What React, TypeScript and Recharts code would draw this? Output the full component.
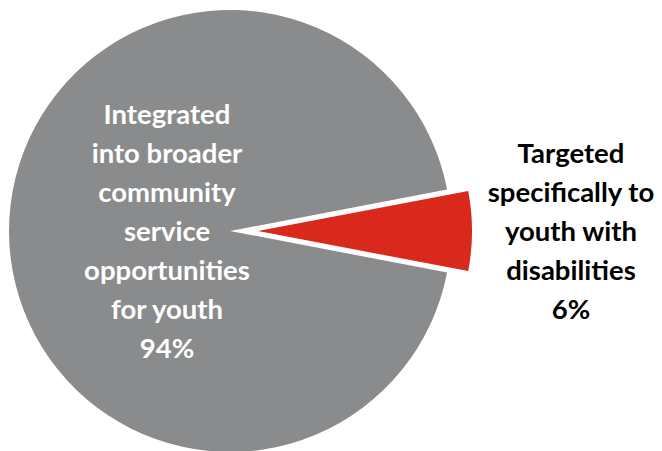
import { PieChart, Pie, Cell } from 'recharts'

const categories = [
  'Integrated into broader community service opportunities for youth',
  'Targeted specifically to youth with disabilities',
]
const values = [94, 6]
const labelLines = [
  ['Integrated', 'into broader', 'community', 'service', 'opportunities', 'for youth'],
  ['Targeted', 'specifically to', 'youth with', 'disabilities'],
]
const colors = ['#898b8c', '#d9291c']
const textColors = ['#ffffff', '#000000']

const data = categories.map((name, i) => ({ name, value: values[i], lines: labelLines[i] }))

const CX = 230
const CY = 231
const EXPLODE = 28
const LINE_H = 39
// distance of each label block from its pie centre, along the slice's mid angle
const labelDist = [63, 313]
const RAD = Math.PI / 180

function makeLabel(only: number) {
  return (props: any) => {
    const { cx, cy, midAngle, index, payload } = props
    if (index !== only) return null
    const lines: string[] = [...(payload.lines ?? data[index].lines), `${data[index].value}%`]
    const x = cx + labelDist[index] * Math.cos(-midAngle * RAD)
    const y0 = cy + 10 - (LINE_H * (lines.length - 1)) / 2
    return (
      <text
        x={x}
        y={y0}
        textAnchor="middle"
        fill={textColors[index]}
        fontFamily="Lato, 'Open Sans', sans-serif"
        fontWeight="bold"
        fontSize={27.5}
      >
        {lines.map((l, i) => (
          <tspan key={i} x={x} dy={i === 0 ? 0 : LINE_H}>
            {l}
          </tspan>
        ))}
      </text>
    )
  }
}

export default function App() {
  return (
    <div style={{ width: 662, height: 451 }}>
      <style>{`body{margin:0;background:#fff}`}</style>
      <PieChart width={662} height={451} margin={{ top: 0, right: 0, bottom: 0, left: 0 }}>
        <Pie
          data={data}
          dataKey="value"
          cx={CX}
          cy={CY}
          outerRadius={221}
          startAngle={10.8}
          endAngle={370.8}
          stroke="none"
          labelLine={false}
          label={makeLabel(0)}
          isAnimationActive={false}
        >
          {data.map((d, i) => (
            <Cell key={`a-${i}`} fill={i === 0 ? colors[0] : 'transparent'} />
          ))}
        </Pie>
        <Pie
          data={data}
          dataKey="value"
          cx={CX + EXPLODE}
          cy={CY}
          outerRadius={214}
          startAngle={10.8}
          endAngle={370.8}
          stroke="none"
          labelLine={false}
          label={makeLabel(1)}
          isAnimationActive={false}
        >
          {data.map((d, i) => (
            <Cell key={`b-${i}`} fill={i === 1 ? colors[1] : 'transparent'} />
          ))}
        </Pie>
      </PieChart>
    </div>
  )
}
